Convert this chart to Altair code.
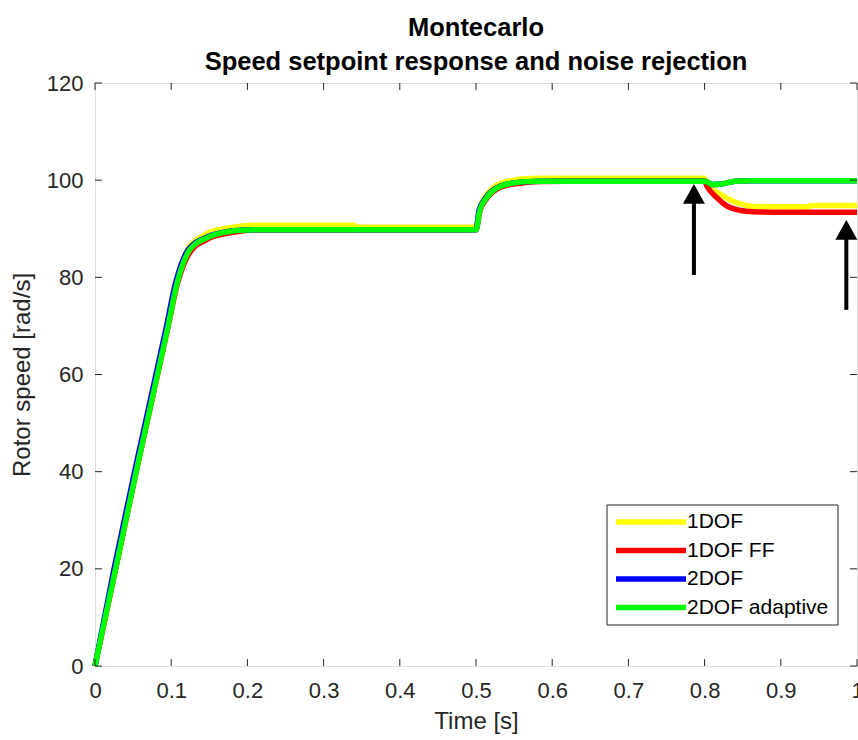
import altair as alt
import pandas as pd

FONT = "Liberation Sans"

series = ["1DOF", "1DOF FF", "2DOF", "2DOF adaptive"]
colors = ["#ffff00", "#ff0000", "#0000ff", "#00ff00"]

# 1DOF (yellow)
t_1dof = [0, 0.027, 0.054, 0.082, 0.095, 0.108, 0.116, 0.123, 0.132, 0.142, 0.155, 0.168, 0.19,
          0.21, 0.34, 0.345,
          0.5, 0.505, 0.512, 0.522, 0.535, 0.549, 0.565, 0.584, 0.62, 0.80, 0.803, 0.81, 0.822,
          0.838, 0.85, 0.862, 0.935, 0.94, 1.0]
y_1dof = [0, 20, 40, 60, 69.5, 79.5, 83.6, 86.1, 87.6, 88.6, 89.5, 90.0, 90.5,
          90.7, 90.7, 90.3,
          90.3, 94.2, 96.6, 98.4, 99.5, 100.0, 100.3, 100.4, 100.4, 100.4, 99.2, 98.2, 97.0,
          95.6, 95.0, 94.6, 94.5, 94.8, 94.8]

# 1DOF FF (red)
t_1dof_ff = [0, 0.027, 0.054, 0.082, 0.095, 0.108, 0.116, 0.123, 0.132, 0.142, 0.155, 0.168, 0.19,
             0.22, 0.5, 0.505,
             0.512, 0.522, 0.535, 0.549, 0.565, 0.584, 0.62, 0.80, 0.803, 0.816, 0.829, 0.846,
             0.864, 0.9, 1.0]
y_1dof_ff = [0, 20, 40, 60, 69.2, 78.6, 82.5, 84.8, 86.5, 87.4, 88.4, 88.9, 89.5,
             89.8, 89.8, 93.6,
             95.8, 97.6, 98.7, 99.2, 99.5, 99.7, 99.8, 99.8, 98.8, 96.4, 94.7, 93.8,
             93.5, 93.4, 93.4]

# 2DOF (blue)
t_2dof = [0, 0.025, 0.052, 0.080, 0.093, 0.106, 0.114, 0.121, 0.130, 0.140, 0.153, 0.166, 0.19,
          0.22, 0.5, 0.504,
          0.511, 0.521, 0.534, 0.548, 0.565, 0.584, 0.62, 0.80, 0.805, 0.81, 0.822, 0.84, 0.86, 1.0]
y_2dof = [0, 20, 40, 60, 69.3, 79, 83, 85.4, 86.9, 87.8, 88.7, 89.2, 89.7,
          89.8, 89.8, 93.8,
          96.0, 97.8, 98.9, 99.4, 99.7, 99.8, 99.8, 99.8, 99.5, 99.1, 99.2, 99.8, 99.9, 99.9]

# 2DOF adaptive (green)
t_2dof_ad = [0, 0.027, 0.054, 0.082, 0.095, 0.108, 0.116, 0.123, 0.132, 0.142, 0.155, 0.168, 0.19,
             0.22, 0.5, 0.505,
             0.512, 0.522, 0.535, 0.549, 0.565, 0.584, 0.62, 0.80, 0.805, 0.81, 0.822, 0.84, 0.86, 1.0]
y_2dof_ad = [0, 20, 40, 60, 69.3, 79, 83, 85.4, 86.9, 87.8, 88.7, 89.2, 89.7,
             89.8, 89.8, 93.8,
             96.0, 97.8, 98.9, 99.4, 99.7, 99.8, 99.8, 99.8, 99.5, 99.1, 99.2, 99.8, 99.9, 99.9]

x_ticks = [0, 0.1, 0.2, 0.3, 0.4, 0.5, 0.6, 0.7, 0.8, 0.9, 1]
y_ticks = [0, 20, 40, 60, 80, 100, 120]

# annotation arrows (time, tip value, tail value)
arrow_t = [0.786, 0.986]
arrow_tip = [99.2, 91.8]
arrow_tail = [80.5, 73.3]

W, H = 762, 583
AX = "#262626"

rows = []
for name, ts, ys_ in [(series[0], t_1dof, y_1dof), (series[1], t_1dof_ff, y_1dof_ff),
                      (series[2], t_2dof, y_2dof), (series[3], t_2dof_ad, y_2dof_ad)]:
    for t, y in zip(ts, ys_):
        rows.append({"series": name, "t": t, "y": y})
df = pd.DataFrame(rows)

xs = alt.Scale(domain=[0, 1], nice=False, zero=False)
ys = alt.Scale(domain=[0, 120], nice=False, zero=False)
cs = alt.Scale(domain=series, range=colors)

x_axis = alt.Axis(values=x_ticks, format="~g", ticks=False, domain=False, grid=False,
                  labelFlush=False, labelOverlap=False,
                  labelFont=FONT, labelFontSize=22, labelColor=AX, labelPadding=14,
                  title="Time [s]", titleFont=FONT, titleFontSize=24, titleFontWeight="normal",
                  titleColor=AX, titlePadding=8)
y_axis = alt.Axis(values=y_ticks, ticks=False, domain=False, grid=False,
                  labelFlush=False, labelOverlap=False,
                  labelFont=FONT, labelFontSize=22, labelColor=AX, labelPadding=12,
                  title="Rotor speed [rad/s]", titleFont=FONT, titleFontSize=24,
                  titleFontWeight="normal", titleColor=AX, titlePadding=12)

line_layers = []
for s in series:
    line_layers.append(
        alt.Chart(df).transform_filter(alt.datum.series == s).mark_line(
            strokeWidth=5.5, interpolate="monotone").encode(
            x=alt.X("t:Q", scale=xs, axis=x_axis),
            y=alt.Y("y:Q", scale=ys, axis=y_axis),
            color=alt.Color("series:N", scale=cs, legend=None),
        )
    )

xt = pd.DataFrame({"t": x_ticks})
yt = pd.DataFrame({"v": y_ticks})
tick_layers = [
    alt.Chart(xt).mark_rule(color=AX, strokeWidth=1).encode(
        x=alt.X("t:Q", scale=xs, axis=x_axis), y=alt.value(H), y2=alt.value(H - 7)),
    alt.Chart(xt).mark_rule(color=AX, strokeWidth=1).encode(
        x=alt.X("t:Q", scale=xs, axis=x_axis), y=alt.value(0), y2=alt.value(7)),
    alt.Chart(yt).mark_rule(color=AX, strokeWidth=1).encode(
        y=alt.Y("v:Q", scale=ys, axis=y_axis), x=alt.value(0), x2=alt.value(7)),
    alt.Chart(yt).mark_rule(color=AX, strokeWidth=1).encode(
        y=alt.Y("v:Q", scale=ys, axis=y_axis), x=alt.value(W), x2=alt.value(W - 7)),
]

adf = pd.DataFrame({"t": arrow_t, "tip": arrow_tip, "tail": arrow_tail})
arrow_shaft = alt.Chart(adf).transform_calculate(base="datum.tip - 3").mark_rule(
    color="black", strokeWidth=4).encode(
    x=alt.X("t:Q", scale=xs, axis=x_axis),
    y=alt.Y("tail:Q", scale=ys, axis=y_axis),
    y2="base:Q")
arrow_head = alt.Chart(adf).mark_point(
    shape="M0,0L-1,1.8L1,1.8Z", size=484, filled=True, color="black", opacity=1,
    strokeWidth=0).encode(
    x=alt.X("t:Q", scale=xs, axis=x_axis),
    y=alt.Y("tip:Q", scale=ys, axis=y_axis))

main = alt.layer(*line_layers, *tick_layers, arrow_shaft, arrow_head)

ldf = pd.DataFrame({"series": series})
ly = alt.Y("series:N", scale=alt.Scale(type="point", domain=series, range=[439, 524.5], padding=0),
           axis=None)
legend_box = alt.Chart(pd.DataFrame({"a": [0]})).mark_rect(
    fill="white", stroke=AX, strokeWidth=1).encode(
    x=alt.value(512), x2=alt.value(743), y=alt.value(422), y2=alt.value(542))
legend_lines = alt.Chart(ldf).mark_rule(strokeWidth=5.5).encode(
    x=alt.value(521), x2=alt.value(591), y=ly,
    color=alt.Color("series:N", scale=cs, legend=None))
legend_text = alt.Chart(ldf).mark_text(
    align="left", baseline="middle", font=FONT, fontSize=21, color="#000000").encode(
    x=alt.value(592), y=ly, text="series:N")
legend = alt.layer(legend_box, legend_lines, legend_text)

chart = alt.layer(main, legend).resolve_scale(y="independent").properties(
    width=W, height=H,
    autosize=alt.AutoSizeParams(type="none"),
    padding={"left": 95, "top": 83, "right": 1, "bottom": 74},
    title=alt.TitleParams(
        text=["Montecarlo", "Speed setpoint response and noise rejection"],
        font=FONT, fontSize=25.5, fontWeight="bold", color="#000000",
        anchor="middle", lineHeight=34, baseline="alphabetic", offset=12, dy=35),
).configure_view(stroke=AX, strokeWidth=1.2).configure(background="white")

chart.save("out.html", embed_options={"renderer": "svg", "actions": False})
